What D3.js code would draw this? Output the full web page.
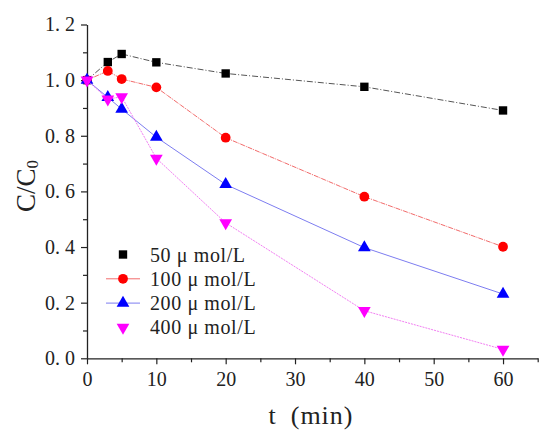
<!DOCTYPE html>
<html>
<head>
<meta charset="utf-8">
<script src="https://cdn.jsdelivr.net/npm/d3@7.9.0/dist/d3.min.js"></script>
<style>
  body { margin: 0; background: #fff; }
  svg { display: block; }
</style>
</head>
<body>
<svg id="chart" width="550" height="437"></svg>
<script>
const times = [0, 3, 5, 10, 20, 40, 60];
const labels = ['50 μ mol/L', '100 μ mol/L', '200 μ mol/L', '400 μ mol/L'];
const c50 = [1.0, 1.065, 1.094, 1.064, 1.024, 0.976, 0.891];
const c100 = [1.0, 1.033, 1.004, 0.974, 0.793, 0.581, 0.401];
const c200 = [1.0, 0.938, 0.896, 0.795, 0.625, 0.398, 0.231];
const c400 = [1.0, 0.932, 0.940, 0.719, 0.487, 0.171, 0.032];
const xTicks = [0, 10, 20, 30, 40, 50, 60];
const yTicks = [0, 0.2, 0.4, 0.6, 0.8, 1.0, 1.2];

const serif = '"Liberation Serif", "DejaVu Serif", serif';

const series = [
    { name: labels[0], values: c50, color: '#000', line: '#555', dash: '6,2,1,2', symbol: d3.symbolSquare, size: 70 },
    { name: labels[1], values: c100, color: '#ff0000', line: '#f26b6b', dash: '5,1,1,1', symbol: d3.symbolCircle, size: 75 },
    { name: labels[2], values: c200, color: '#0000ff', line: '#7d7df0', dash: null, symbol: d3.symbolTriangle, size: 70 },
    { name: labels[3], values: c400, color: '#ff00ff', line: '#f27ef2', dash: '2,1', symbol: d3.symbolTriangle, size: 70, flip: true },
];

const svg = d3.select('#chart');
const x = d3.scaleLinear().domain([0, 65]).range([87, 537.7]);
const y = d3.scaleLinear().domain([0, 1.2]).range([358.3, 24.5]);

// minor ticks first, then major
svg.append('g')
    .attr('transform', 'translate(0,358.3)')
    .call(d3.axisBottom(x).tickValues(d3.range(5, 66, 10)).tickSize(4).tickFormat(''))
    .call(g => g.select('.domain').remove());
svg.append('g')
    .attr('transform', 'translate(87,0)')
    .call(d3.axisLeft(y).tickValues(d3.range(0.1, 1.2, 0.2)).tickSize(4).tickFormat(''))
    .call(g => g.select('.domain').remove());

svg.append('g')
    .attr('transform', 'translate(0,358.3)')
    .call(d3.axisBottom(x).tickValues(xTicks).tickSize(6).tickSizeOuter(0).tickPadding(8))
    .call(g => g.select('.domain').attr('stroke', '#222').attr('stroke-width', 1.3));
svg.append('g')
    .attr('transform', 'translate(87,0)')
    .call(d3.axisLeft(y).tickValues(yTicks).tickSize(6).tickSizeOuter(0).tickPadding(6)
        .tickFormat(d => d3.format('.1f')(d).replace('.', '. ')))
    .call(g => g.select('.domain').attr('stroke', '#222').attr('stroke-width', 1.3));

svg.selectAll('.tick line').attr('stroke', '#222').attr('stroke-width', 1.2);
svg.selectAll('.tick text')
    .attr('font-family', serif)
    .attr('font-size', 20)
    .attr('fill', '#222')
    .style('white-space', 'pre');

const line = d3.line().x((d, i) => x(times[i])).y(d => y(d));

series.forEach(s => {
    svg.append('path')
        .attr('d', line(s.values))
        .attr('fill', 'none')
        .attr('stroke', s.line)
        .attr('stroke-width', 1)
        .attr('stroke-dasharray', s.dash);
    svg.append('g').selectAll('path')
        .data(s.values)
        .join('path')
        .attr('d', d3.symbol(s.symbol, s.size))
        .attr('transform', (d, i) => `translate(${x(times[i])},${y(d)})${s.flip ? ' rotate(180)' : ''}`)
        .attr('fill', s.color);
});

// legend
const legend = svg.append('g');
series.forEach((s, i) => {
    const ly = 254.5 + i * 24.3;
    if (i === 1 || i === 2) {
        legend.append('line')
            .attr('x1', 106).attr('x2', 140).attr('y1', ly).attr('y2', ly)
            .attr('stroke', s.line).attr('stroke-width', 1);
    }
    legend.append('path')
        .attr('d', d3.symbol(s.symbol, s.size))
        .attr('transform', `translate(123,${ly})${s.flip ? ' rotate(180)' : ''}`)
        .attr('fill', s.color);
    legend.append('text')
        .attr('x', 150).attr('y', ly + 7)
        .attr('font-family', serif)
        .attr('font-size', 20)
        .attr('letter-spacing', 0.6)
        .attr('fill', '#222')
        .text(s.name);
});

// axis titles
svg.append('text')
    .attr('transform', 'translate(35,186) rotate(-90)')
    .attr('text-anchor', 'middle')
    .attr('font-family', serif)
    .attr('font-size', 27)
    .attr('fill', '#222')
    .call(t => {
        t.append('tspan').text('C/C');
        t.append('tspan').attr('font-size', 17).attr('dy', 3).text('0');
    });

svg.append('text')
    .attr('x', 311).attr('y', 424)
    .attr('text-anchor', 'middle')
    .attr('font-family', serif)
    .attr('font-size', 26)
    .attr('letter-spacing', 1)
    .attr('fill', '#222')
    .text('t\u2002(min)');
</script>
</body>
</html>
